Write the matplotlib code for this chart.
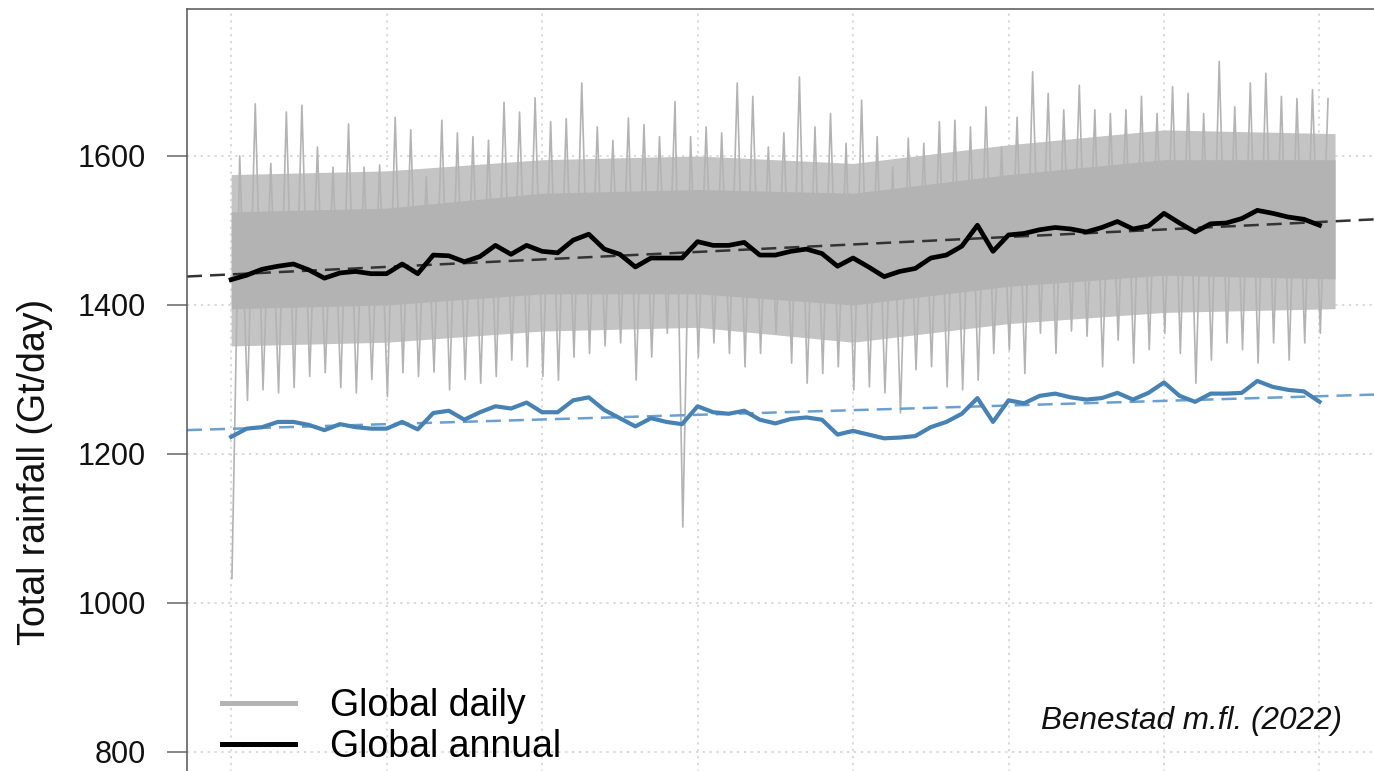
import numpy as np
import matplotlib
matplotlib.use("Agg")
import matplotlib.pyplot as plt
from matplotlib.lines import Line2D

plt.rcParams['font.family'] = ['Liberation Sans', 'DejaVu Sans']

# ---------------- data ----------------
years = np.arange(1950, 2021)

annual_global = [1434, 1440, 1448, 1452, 1455, 1447, 1436, 1443, 1445, 1442,
                 1442, 1455, 1442, 1467, 1466, 1458, 1465, 1480, 1468, 1480,
                 1472, 1470, 1487, 1495, 1475, 1468, 1451, 1463, 1463, 1463,
                 1485, 1480, 1480, 1484, 1467, 1467, 1472, 1475, 1469, 1452,
                 1463, 1451, 1438, 1445, 1449, 1463, 1467, 1479, 1507, 1472,
                 1494, 1496, 1501, 1504, 1502, 1498, 1504, 1512, 1502, 1506,
                 1523, 1510, 1498, 1509, 1510, 1516, 1527, 1523, 1518, 1515,
                 1507]

annual_blue = [1223, 1234, 1236, 1243, 1243, 1239, 1232, 1240, 1236, 1234,
               1234, 1243, 1233, 1255, 1258, 1246, 1256, 1264, 1261, 1269,
               1256, 1256, 1272, 1276, 1259, 1248, 1237, 1248, 1243, 1240,
               1264, 1256, 1254, 1258, 1246, 1241, 1247, 1249, 1246, 1226,
               1231, 1226, 1221, 1222, 1224, 1236, 1243, 1254, 1275, 1243,
               1272, 1268, 1278, 1281, 1276, 1273, 1275, 1282, 1273, 1282,
               1296, 1278, 1270, 1281, 1281, 1282, 1298, 1290, 1286, 1284,
               1270]

# highest / lowest daily value in each year
daily_max = [1600, 1670, 1590, 1659, 1668, 1612, 1585, 1643, 1585, 1588,
             1652, 1635, 1572, 1648, 1631, 1626, 1621, 1672, 1659, 1678,
             1646, 1650, 1698, 1639, 1621, 1651, 1642, 1626, 1673, 1626,
             1639, 1631, 1698, 1680, 1612, 1631, 1706, 1639, 1657, 1617,
             1675, 1626, 1585, 1624, 1617, 1646, 1648, 1639, 1666, 1612,
             1652, 1713, 1684, 1662, 1695, 1662, 1657, 1662, 1680, 1657,
             1693, 1684, 1657, 1727, 1666, 1698, 1711, 1680, 1677, 1689,
             1677]

daily_min = [1033, 1272, 1286, 1282, 1289, 1304, 1309, 1289, 1282, 1300,
             1277, 1309, 1304, 1310, 1286, 1300, 1295, 1304, 1326, 1317,
             1304, 1299, 1330, 1335, 1345, 1349, 1299, 1330, 1362, 1102,
             1330, 1349, 1335, 1317, 1335, 1362, 1322, 1295, 1308, 1317,
             1286, 1290, 1282, 1255, 1313, 1317, 1290, 1286, 1299, 1335,
             1340, 1308, 1362, 1335, 1365, 1358, 1317, 1353, 1322, 1340,
             1362, 1335, 1295, 1326, 1349, 1340, 1322, 1349, 1326, 1349,
             1362]

# envelope of the dense part of the daily series
band_years = [1950, 1960, 1970, 1980, 1990, 2000, 2010, 2021]
core_hi = [1525, 1530, 1550, 1555, 1550, 1575, 1595, 1595]
core_lo = [1395, 1400, 1415, 1415, 1400, 1425, 1440, 1435]
fringe_hi = [1575, 1580, 1595, 1600, 1590, 1615, 1635, 1630]
fringe_lo = [1345, 1350, 1365, 1370, 1350, 1375, 1390, 1395]

y_ticks = [800, 1000, 1200, 1400, 1600]
x_grid = [1950, 1960, 1970, 1980, 1990, 2000, 2010, 2020]
legend_labels = ['Global daily', 'Global annual']
ylabel = 'Total rainfall (Gt/day)'
credit = 'Benestad m.fl. (2022)'

# ---------------- figure ----------------
W, H = 1374, 771
fig = plt.figure(figsize=(W / 100, H / 100), dpi=100)
x_lo, x_hi = 1947.16, 2023.84
y_lo, y_hi = 554, 1797.3
ax = fig.add_axes([187 / W, (H - 935.2) / H, (1379.2 - 187) / W, (935.2 - 9) / H])
ax.set_xlim(x_lo, x_hi)
ax.set_ylim(y_lo, y_hi)

grid_kw = dict(color='#d0d0d0', lw=1.1, ls=(0, (1.5, 3)), zorder=0)
for g in x_grid:
    ax.axvline(g, **grid_kw)
for g in y_ticks:
    ax.axhline(g, **grid_kw)

gray = '#b3b3b3'
yrs = np.asarray(years, dtype=float)
ax.fill_between(band_years, fringe_lo, fringe_hi, color='#c4c4c4', lw=0, zorder=1)
ax.fill_between(band_years, core_lo, core_hi, color=gray, lw=0, zorder=1.1)

# daily series drawn through the yearly extremes (low early, high mid-year)
zig_x = np.column_stack([yrs + 0.05, yrs + 0.55]).ravel()
zig_y = np.column_stack([daily_min, daily_max]).ravel()
ax.plot(zig_x, zig_y, color=gray, lw=1.2, zorder=1.2)

# linear trends
xx = np.array([x_lo, x_hi])
pb = np.polyfit(yrs, annual_global, 1)
pl = np.polyfit(yrs, annual_blue, 1)
ax.plot(xx, np.polyval(pb, xx), color='#333333', lw=1.8, dashes=(6, 3.2), zorder=2)
ax.plot(xx, np.polyval(pl, xx), color='#6a9fd0', lw=1.8, dashes=(6, 3.2), zorder=2)

ax.plot(yrs, annual_global, color='black', lw=3.4, solid_joinstyle='round', zorder=3)
ax.plot(yrs, annual_blue, color='#4682b4', lw=3.0, solid_joinstyle='round', zorder=3)

# axes styling
for s in ax.spines.values():
    s.set_color('#555555')
    s.set_linewidth(1.1)
ax.set_xticks([])
ax.set_yticks(y_ticks)
ax.tick_params(axis='y', length=14.4, width=1.1, color='#666666', pad=15,
               labelsize=22, labelcolor='#111111')
ax.set_ylabel(ylabel, fontsize=27, color='#111111')
ax.yaxis.set_label_coords(-0.112, 0.5)

handles = [Line2D([], [], color=gray, lw=3.6), Line2D([], [], color='black', lw=3.6)]
ax.legend(handles, legend_labels, loc='upper left',
          bbox_to_anchor=(222 / W, 1 - 688 / H), bbox_transform=fig.transFigure,
          frameon=False, fontsize=27, handlelength=1.95, handletextpad=0.93,
          labelspacing=0.13, borderpad=0, borderaxespad=0)

fig.text(1342 / W, 1 - 729 / H, credit, ha='right', va='baseline',
         fontsize=22.7, style='italic', color='#111111')

fig.savefig('out.png', dpi=100)
